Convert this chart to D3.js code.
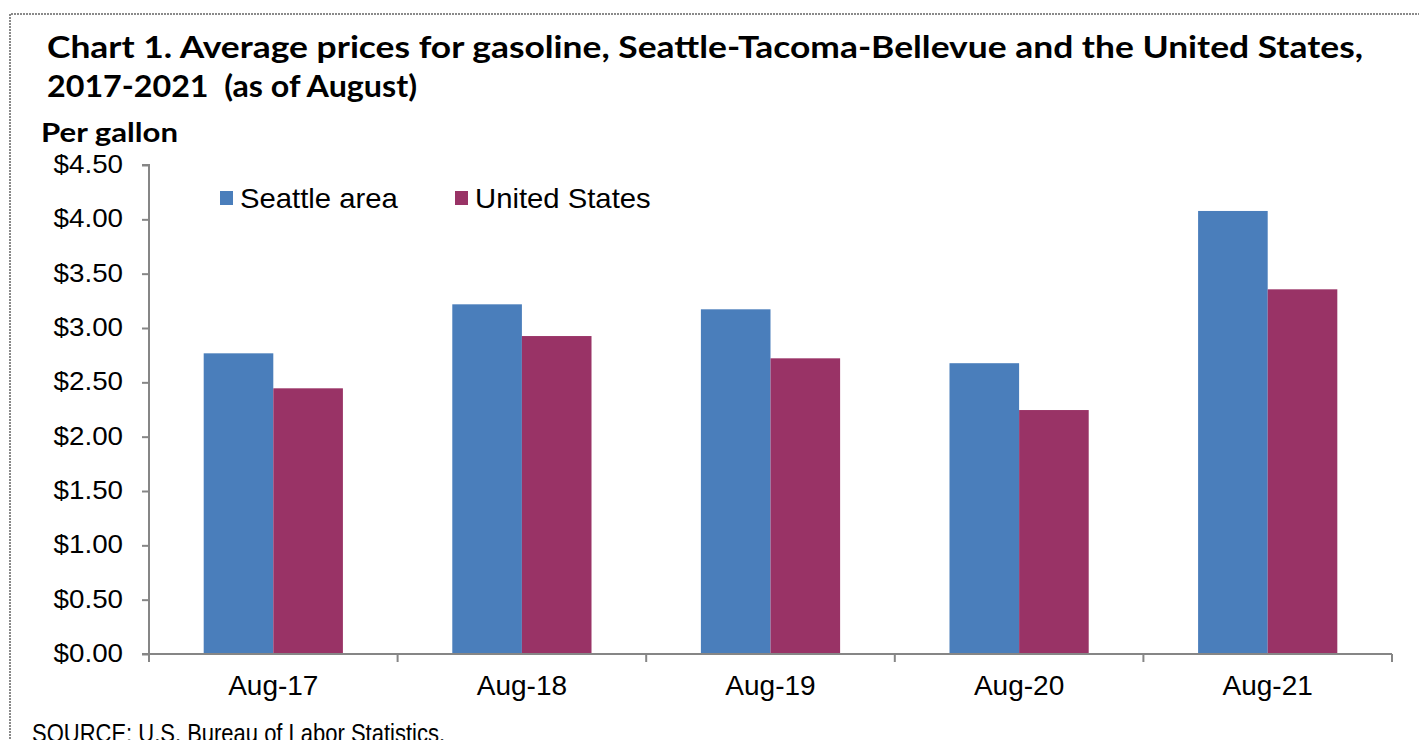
<!DOCTYPE html>
<html>
<head>
<meta charset="utf-8">
<script src="https://cdn.jsdelivr.net/npm/d3@7"></script>
<style>
html,body{margin:0;padding:0;background:#fff;}
svg{display:block;}
</style>
</head>
<body>
<svg id="chart" width="1419" height="740"></svg>
<script>
const categories = ["Aug-17", "Aug-18", "Aug-19", "Aug-20", "Aug-21"];
const seriesNames = ["Seattle area", "United States"];
const seattle = [2.767, 3.218, 3.172, 2.676, 4.077];
const unitedStates = [2.445, 2.926, 2.721, 2.245, 3.356];
const yTicks = [0, 0.5, 1, 1.5, 2, 2.5, 3, 3.5, 4, 4.5];
const colors = ["#4A7EBB", "#993366"];
const titleLines = ["Chart 1. Average prices for gasoline, Seattle-Tacoma-Bellevue and the United States,", "2017-2021\u00a0\u00a0(as of August)"];
const yAxisTitle = "Per gallon";
const sourceText = "SOURCE: U.S. Bureau of Labor Statistics.";

const svg = d3.select("#chart");
const W = 1419, H = 740;
const plot = {left: 149, right: 1392, top: 165, bottom: 654};

// set rendered width of a text: either a fixed width or a factor of its natural width
function fit(sel, opts) {
  sel.each(function() {
    const natural = this.getComputedTextLength();
    const target = opts.width != null ? opts.width : natural * opts.factor;
    d3.select(this).attr("textLength", target).attr("lengthAdjust", "spacingAndGlyphs");
  });
}

// outer border (dotted gray)
svg.append("path")
  .attr("d", `M10,${H+5} L10,14 L${W+5},14`)
  .attr("fill", "none").attr("stroke", "#8a8a8a").attr("stroke-width", 2)
  .attr("stroke-dasharray", "2,1");

const x0 = d3.scaleBand().domain(categories).range([plot.left, plot.right]).paddingInner(0).paddingOuter(0);
const innerPad = 0.22;
const x1 = d3.scaleBand().domain(seriesNames).range([x0.bandwidth()*innerPad, x0.bandwidth()*(1-innerPad)]).padding(0);
const y = d3.scaleLinear().domain([0, 4.5]).range([plot.bottom, plot.top]);

const rows = categories.map((c, i) => ({cat: c, vals: [seattle[i], unitedStates[i]]}));

// bars
const g = svg.append("g");
g.selectAll("g.cat").data(rows).join("g").attr("class", "cat")
  .attr("transform", d => `translate(${x0(d.cat)},0)`)
  .selectAll("rect").data(d => d.vals.map((v, k) => ({name: seriesNames[k], v, k})))
  .join("rect")
  .attr("x", d => x1(d.name))
  .attr("width", x1.bandwidth())
  .attr("y", d => y(d.v))
  .attr("height", d => y(0) - y(d.v))
  .attr("fill", d => colors[d.k]);

const font = "'Liberation Sans', Arial, sans-serif";
const axisColor = "#868686";

// y axis
const yAxis = d3.axisLeft(y).tickValues(yTicks).tickSize(7).tickPadding(19)
  .tickFormat(d => "$" + d3.format(".2f")(d));
const ya = svg.append("g").attr("transform", `translate(${plot.left},0)`).call(yAxis);
ya.select(".domain").attr("stroke", axisColor).attr("stroke-width", 2).attr("d", `M-7,${plot.top}H0V${plot.bottom}`);
ya.selectAll(".tick line").attr("stroke", axisColor).attr("stroke-width", 2);
ya.selectAll(".tick text").attr("font-family", font).attr("font-size", 25).attr("fill", "#000")
  .attr("dy", "0.3em");
fit(ya.selectAll(".tick text"), {factor: 1.11});

// x axis
const xa = svg.append("g").attr("transform", `translate(0,${plot.bottom})`);
xa.append("line").attr("x1", plot.left - 7).attr("x2", plot.right).attr("y1", 0).attr("y2", 0)
  .attr("stroke", axisColor).attr("stroke-width", 2);
const bounds = categories.map(c => x0(c)).concat([x0(categories[categories.length-1]) + x0.bandwidth()]);
xa.selectAll("line.tk").data(bounds).join("line").attr("class", "tk")
  .attr("x1", d => d).attr("x2", d => d).attr("y1", 0).attr("y2", 8)
  .attr("stroke", axisColor).attr("stroke-width", 2);
xa.selectAll("text").data(categories).join("text")
  .attr("x", d => x0(d) + x0.bandwidth()/2).attr("y", 41)
  .attr("text-anchor", "middle").attr("font-family", font).attr("font-size", 28).attr("fill", "#000")
  .text(d => d);

// legend
const legendX = [220, 455];
const lg = svg.append("g").selectAll("g").data(seriesNames).join("g")
  .attr("transform", (d, i) => `translate(${legendX[i]},0)`);
lg.append("rect").attr("x", 0).attr("y", 191).attr("width", 13).attr("height", 14)
  .attr("fill", (d, i) => colors[i]);
const lgt = lg.append("text").attr("x", 20).attr("y", 208).attr("font-family", font).attr("font-size", 28)
  .attr("fill", "#000").text(d => d);
fit(lgt, {factor: 1.045});

// title
const titleFont = "Lato, 'Open Sans', sans-serif";
const titleWidths = [1316, 370];
const tt = svg.append("g").selectAll("text").data(titleLines).join("text")
  .attr("x", 47).attr("y", (d, i) => 58 + i*39)
  .attr("font-family", titleFont).attr("font-weight", "bold").attr("font-size", 30)
  .attr("fill", "#000").text(d => d);
tt.each(function(d, i) { fit(d3.select(this), {width: titleWidths[i]}); });

const yt = svg.append("text").attr("x", 41).attr("y", 142).attr("font-family", titleFont)
  .attr("font-weight", "bold").attr("font-size", 26).attr("fill", "#000").text(yAxisTitle);
fit(yt, {width: 137});

const st = svg.append("text").attr("x", 32).attr("y", 742).attr("font-family", font).attr("font-size", 26)
  .attr("fill", "#000").text(sourceText);
fit(st, {width: 413});
</script>
</body>
</html>
